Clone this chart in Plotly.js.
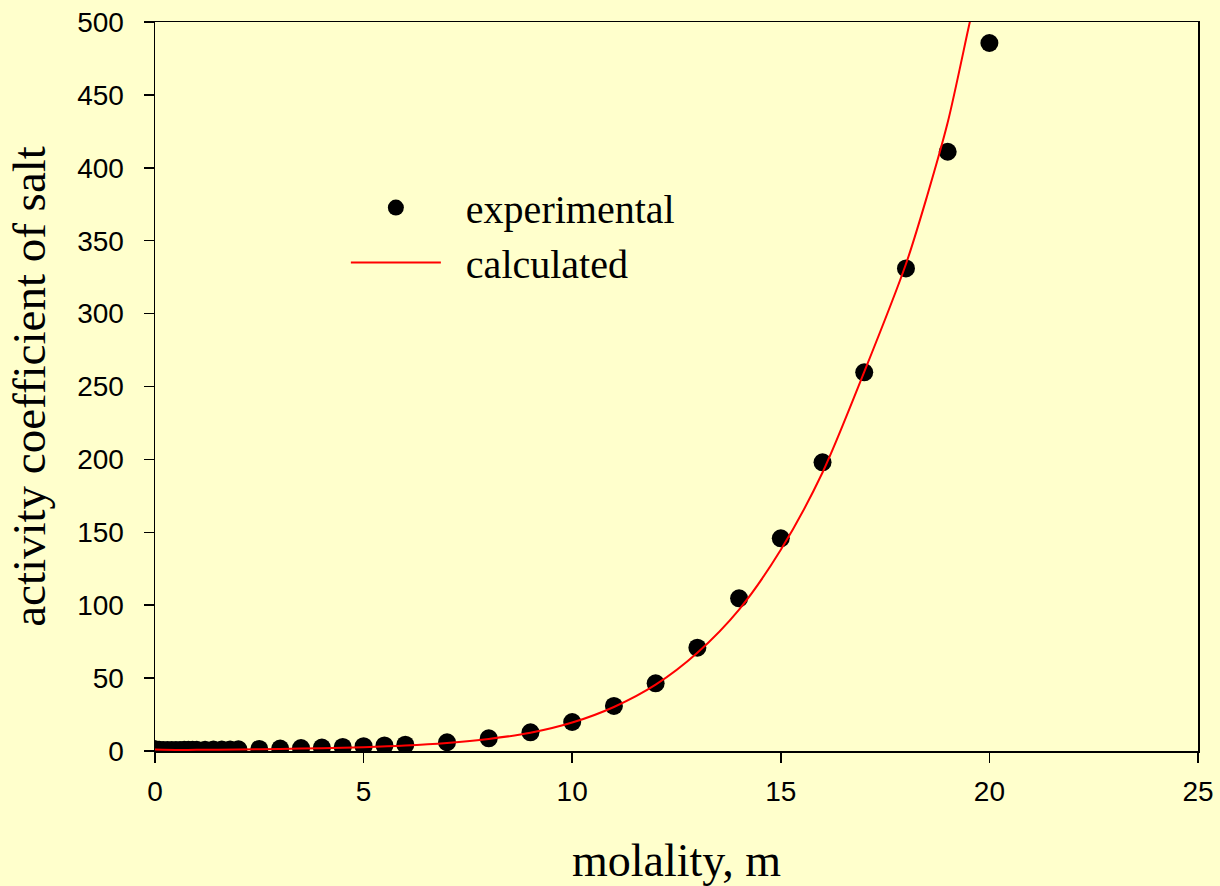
<!DOCTYPE html>
<html>
<head>
<meta charset="utf-8">
<script src="https://cdn.plot.ly/plotly-3.0.1.min.js"></script>
<style>
  html, body { margin: 0; padding: 0; background: #FFFFCC; }
  #chart { width: 1220px; height: 886px; }
</style>
</head>
<body>
<div id="chart"></div>
<script>
// Experimental data (molality, activity coefficient)
const expMolality = [0.001, 0.002, 0.005, 0.01, 0.02, 0.05, 0.1, 0.2, 0.3, 0.4, 0.5, 0.6, 0.7, 0.8, 0.9, 1.0,
  1.2, 1.4, 1.6, 1.8, 2.0, 2.5, 3.0, 3.5, 4.0, 4.5, 5.0, 5.5, 6.0,
  7, 8, 9, 10, 11, 12, 13, 14, 15, 16, 17, 18, 19, 20];
const expGamma = [0.97, 0.95, 0.93, 0.90, 0.87, 0.82, 0.78, 0.75, 0.74, 0.74, 0.75, 0.76, 0.78, 0.80, 0.82, 0.85,
  0.90, 0.96, 1.03, 1.10, 1.18, 1.40, 1.70, 2.0, 2.4, 2.8, 3.3, 3.8, 4.3,
  6.0, 8.7, 12.8, 19.9, 30.9, 46.4, 70.9, 104.7, 145.9, 198, 259.7, 331, 411, 485.6];

// Calculated curve
const calcMolality = [0, 0.5, 1, 2, 3, 4, 5, 6, 7, 8, 9, 10, 11, 12, 13, 14, 15, 16, 17, 18, 18.5, 19, 19.5, 19.7];
const calcGamma = [1.0, 0.75, 0.8, 1.0, 1.4, 1.9, 2.6, 3.7, 5.5, 8.3, 12.5, 19.5, 30.2, 45.5, 67.4, 97, 138, 191, 260, 334, 380, 431, 496, 522];

const xTicks = [0, 5, 10, 15, 20, 25];
const yTicks = [0, 50, 100, 150, 200, 250, 300, 350, 400, 450, 500];

const NB = '\u00A0';

const traces = [
  {
    x: expMolality, y: expGamma, name: NB + NB + 'experimental', type: 'scatter', mode: 'markers',
    marker: { color: '#000000', size: 18, line: { width: 0 } }
  },
  {
    x: calcMolality, y: calcGamma, name: NB + NB + 'calculated', type: 'scatter', mode: 'lines',
    line: { color: '#FF0000', width: 2, shape: 'spline', smoothing: 0.8 }
  }
];

const layout = {
  width: 1220, height: 886,
  paper_bgcolor: '#FFFFCC', plot_bgcolor: '#FFFFCC',
  margin: { l: 155, r: 22, t: 22, b: 135 },
  showlegend: true,
  legend: {
    x: 0.183, y: 0.79, xanchor: 'left', yanchor: 'top',
    bgcolor: 'rgba(0,0,0,0)', borderwidth: 0,
    font: { family: 'Liberation Serif, Times New Roman, serif', size: 40, color: '#000' },
    itemwidth: 90
  },
  xaxis: {
    range: [0, 25], tickvals: xTicks, ticktext: xTicks.map(String),
    showgrid: false, zeroline: false,
    showline: true, linecolor: '#000', linewidth: 1.5, mirror: true,
    ticks: 'outside', ticklen: 10, tickcolor: '#000', tickwidth: 1.5,
    ticklabelstandoff: 5,
    tickfont: { family: 'Liberation Sans, Arial, sans-serif', size: 28, color: '#000' },
    title: { text: 'molality, m', font: { family: 'Liberation Serif, Times New Roman, serif', size: 46, color: '#000' }, standoff: 40 }
  },
  yaxis: {
    range: [0, 500], tickvals: yTicks, ticktext: yTicks.map(String),
    showgrid: false, zeroline: false,
    showline: true, linecolor: '#000', linewidth: 1.5, mirror: true,
    ticks: 'outside', ticklen: 10, tickcolor: '#000', tickwidth: 1.5,
    ticklabelstandoff: 14,
    tickfont: { family: 'Liberation Sans, Arial, sans-serif', size: 28, color: '#000' },
    title: { text: 'activity coefficient of salt', font: { family: 'Liberation Serif, Times New Roman, serif', size: 47, color: '#000' }, standoff: 16 }
  }
};

Plotly.newPlot('chart', traces, layout, { displayModeBar: false, staticPlot: true });
</script>
</body>
</html>
